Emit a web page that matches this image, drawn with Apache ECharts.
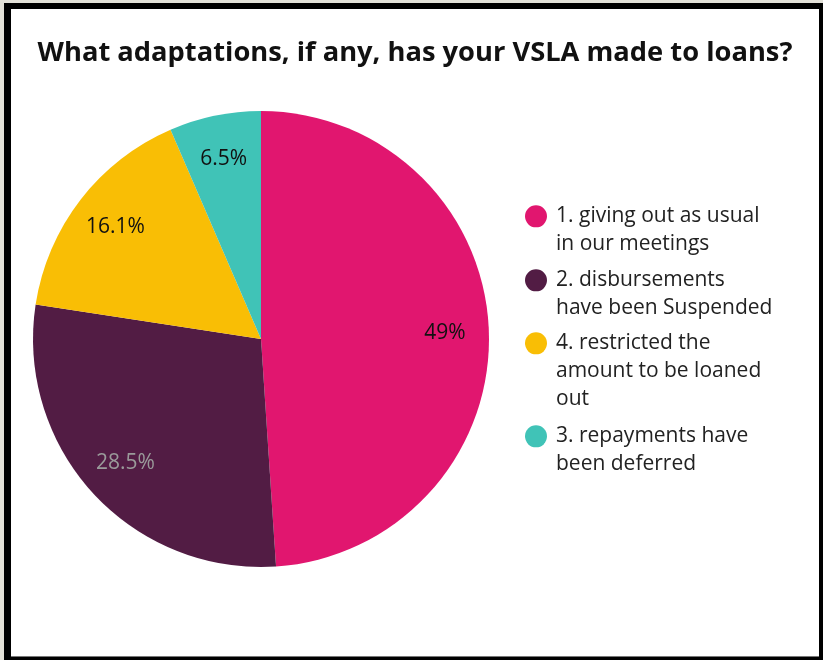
<!DOCTYPE html>
<html>
<head>
<meta charset="utf-8">
<script src="https://cdn.jsdelivr.net/npm/echarts@6/dist/echarts.min.js"></script>
<style>
  html, body { margin: 0; padding: 0; background: #e3e1d8; }
  #frame { position: absolute; left: 4px; top: 3px; width: 819px; height: 657px; background: #000; }
  #main { position: absolute; left: 7px; top: 6px; width: 808px; height: 647px; background: #fff; border-bottom: 1px solid #777; }
</style>
</head>
<body>
<div id="frame"><div id="main"></div></div>
<script>
// chart data
const categories = [
  '1. giving out as usual in our meetings',
  '2. disbursements have been Suspended',
  '4. restricted the amount to be loaned out',
  '3. repayments have been deferred'
];
// how the legend wraps each name
const legendLines = [
  ['1. giving out as usual', 'in our meetings'],
  ['2. disbursements', 'have been Suspended'],
  ['4. restricted the', 'amount to be loaned', 'out'],
  ['3. repayments have', 'been deferred']
];
const values = [49, 28.5, 16.1, 6.5];
const colors = ['#e1166f', '#521c44', '#f9be05', '#40c3b7'];
const labelColors = ['#111', '#9a9a9a', '#111', '#111'];

const lineH = 27.7;
const legendTops = [188.5, 252.5, 315.5, 408.5];

const pieData = categories.map((name, i) => ({
  name: name,
  value: values[i],
  itemStyle: { color: colors[i] }
}));

// transparent ring on top just to carry the % labels further out
const labelData = categories.map((name, i) => ({
  name: name,
  value: values[i],
  itemStyle: { color: 'rgba(0,0,0,0)' },
  label: { color: labelColors[i] }
}));

// circle icon sitting on the first text line of a multi-line legend item
function iconFor(n) {
  const h = n * lineH, c = lineH / 2;
  return 'path://M0,0 M26,' + h + ' M0,' + c + ' A11,11 0 1,1 22,' + c + ' A11,11 0 1,1 0,' + c + ' Z';
}

const legends = categories.map((name, i) => ({
  orient: 'vertical',
  left: 509,
  top: legendTops[i],
  itemWidth: 26,
  itemHeight: legendLines[i].length * lineH,
  selectedMode: false,
  data: [{ name: name, icon: iconFor(legendLines[i].length) }],
  formatter: () => legendLines[i].join('\n'),
  textStyle: {
    fontFamily: 'Open Sans',
    fontSize: 21,
    color: '#222',
    lineHeight: lineH
  }
}));

let myChart = echarts.init(document.getElementById('main'));
myChart.setOption({
  title: {
    text: 'What adaptations, if any, has your VSLA made to loans?',
    left: 'center',
    top: 26,
    textStyle: { fontFamily: 'Open Sans', fontWeight: 'bold', fontSize: 27.3, color: '#111' }
  },
  legend: legends,
  series: [
    {
      type: 'pie',
      center: [250, 330],
      radius: [0, 228],
      startAngle: 90,
      clockwise: true,
      label: { show: false },
      labelLine: { show: false },
      emphasis: { disabled: true },
      data: pieData
    },
    {
      type: 'pie',
      center: [250, 330],
      radius: [134, 228],
      startAngle: 90,
      clockwise: true,
      silent: true,
      label: {
        show: true,
        position: 'inside',
        formatter: p => p.value + '%',
        fontFamily: 'Open Sans',
        fontSize: 21
      },
      labelLine: { show: false },
      emphasis: { disabled: true },
      data: labelData
    }
  ]
});
</script>
</body>
</html>
